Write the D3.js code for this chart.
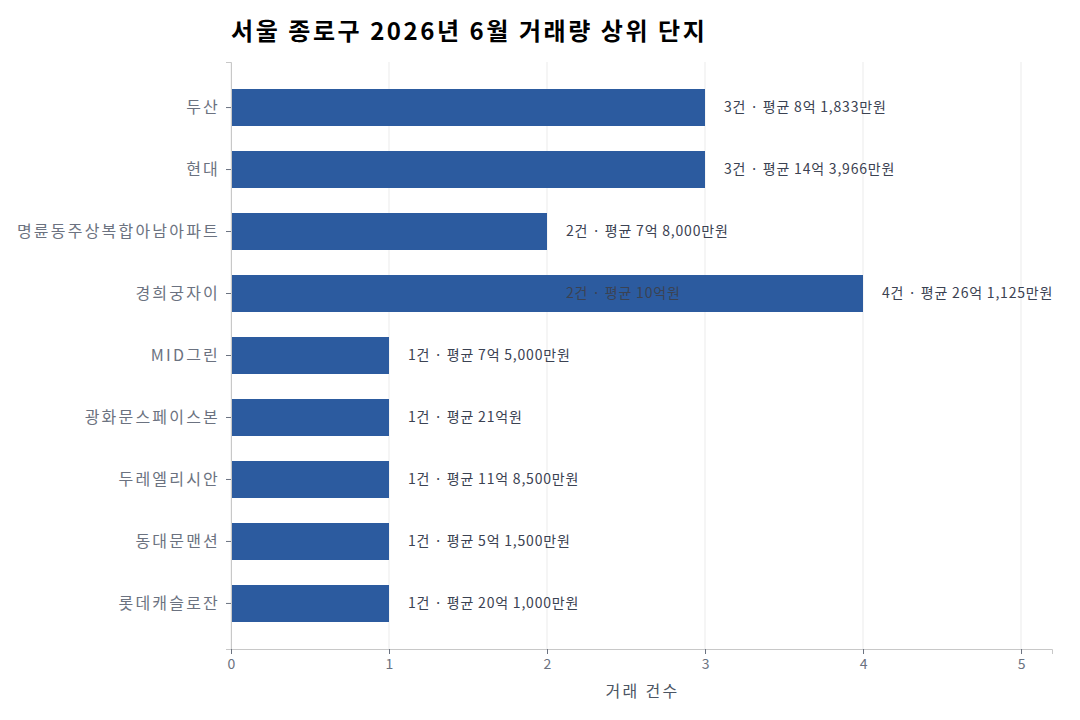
<!DOCTYPE html>
<html><head><meta charset="utf-8">
<script src="https://cdn.jsdelivr.net/npm/d3@7"></script>
<style>
body{margin:0;background:#fff;}
text{font-family:"Noto Sans CJK KR","Noto Sans",sans-serif;}
</style></head>
<body><svg id="c" width="1080" height="720"></svg>
<script>
const title = "서울 종로구 2026년 6월 거래량 상위 단지";
const names = ["두산","현대","명륜동주상복합아남아파트","경희궁자이","경희궁자이","MID그린","광화문스페이스본","두레엘리시안","동대문맨션","롯데캐슬로잔"];
const counts = [3,3,2,2,4,1,1,1,1,1];
const labels = ["3건 · 평균 8억 1,833만원","3건 · 평균 14억 3,966만원","2건 · 평균 7억 8,000만원","2건 · 평균 10억원","4건 · 평균 26억 1,125만원","1건 · 평균 7억 5,000만원","1건 · 평균 21억원","1건 · 평균 11억 8,500만원","1건 · 평균 5억 1,500만원","1건 · 평균 20억 1,000만원"];
const xTicks = [0,1,2,3,4,5];
const xTitle = "거래 건수";

const data = names.map((n,i)=>({name:n,count:counts[i],label:labels[i]}));
const svg = d3.select("#c");
const m = {left:231, right:1052, top:62, bottom:649};
const x = d3.scaleLinear().domain([0,5.196]).range([m.left,m.right]);
const y = d3.scaleBand().domain(names).range([m.top,m.bottom]).paddingInner(0.39).paddingOuter(0.43);

// gridlines
svg.append("g").selectAll("line").data(xTicks).join("line")
  .attr("x1",d=>x(d)).attr("x2",d=>x(d)).attr("y1",m.top).attr("y2",m.bottom)
  .attr("stroke","#ebebeb").attr("stroke-width",1);

// bars
svg.append("g").attr("shape-rendering","crispEdges").selectAll("rect").data(data).join("rect")
  .attr("x",x(0)).attr("y",d=>y(d.name)).attr("width",d=>x(d.count)-x(0)).attr("height",y.bandwidth())
  .attr("fill","#2c5b9f");

// labels
svg.append("g").selectAll("text").data(data).join("text")
  .attr("x",d=>x(d.count)+19).attr("y",d=>y(d.name)+y.bandwidth()/2)
  .attr("dy","0.35em").attr("font-size",14).attr("letter-spacing",0.8).attr("fill","#3b4252").text(d=>d.label);

// y axis
const ya = svg.append("g").attr("transform",`translate(${m.left},0)`).call(d3.axisLeft(y).tickSize(5).tickPadding(6));
ya.select(".domain").attr("stroke","#c8c8c8");
ya.selectAll(".tick line").attr("stroke","#6b7280");
ya.selectAll(".tick text").attr("font-size",16).attr("letter-spacing",2.2).attr("fill","#6b7280").attr("font-family","'Noto Sans CJK KR',sans-serif");

// x axis
const xa = svg.append("g").attr("transform",`translate(0,${m.bottom})`).call(d3.axisBottom(x).tickValues(xTicks).tickFormat(d3.format("d")).tickSize(5).tickPadding(5));
xa.select(".domain").attr("stroke","#c8c8c8");
xa.selectAll(".tick line").attr("stroke","#6b7280");
xa.selectAll(".tick text").attr("font-size",14).attr("fill","#6b7280").attr("font-family","'Noto Sans CJK KR',sans-serif");

svg.append("text").attr("x",(m.left+m.right)/2 + 1).attr("y",697)
  .attr("text-anchor","middle").attr("font-size",16).attr("letter-spacing",2.3).attr("fill","#4b5563").text(xTitle);

svg.append("text").attr("x",231).attr("y",40).attr("font-size",24).attr("font-weight","bold")
  .attr("letter-spacing",2.55).attr("fill","#000").text(title);
</script></body></html>
